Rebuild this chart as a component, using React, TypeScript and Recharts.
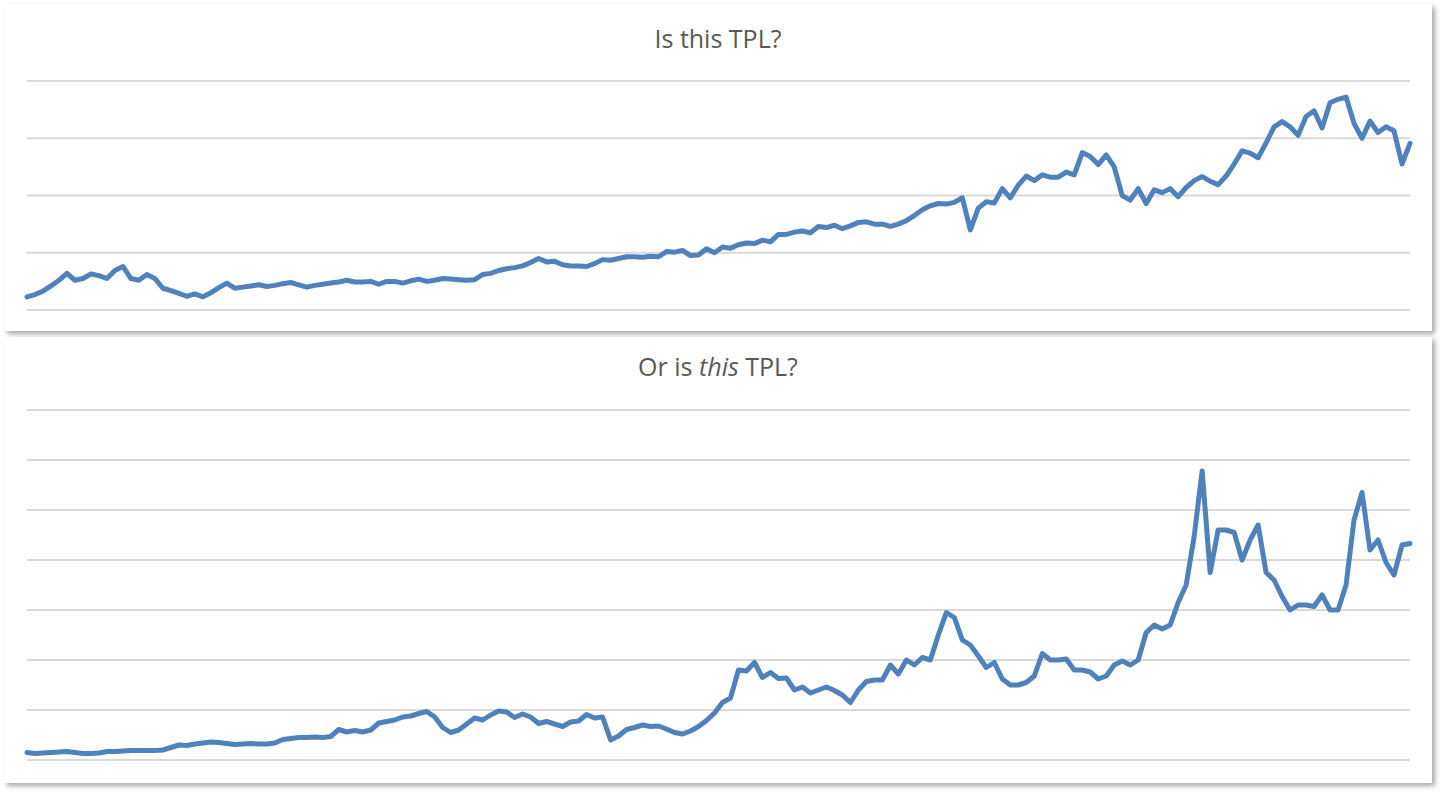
import { LineChart, Line, XAxis, YAxis, CartesianGrid } from "recharts";

// price readings, evenly spaced in time
const topValues = [
  23, 27, 33, 42, 52, 64, 52, 55, 63, 60,
  55, 69, 76, 55, 52, 62, 55, 38, 34, 29,
  24, 28, 23, 30, 39, 47, 38, 40, 42, 44,
  41, 43, 46, 48, 44, 40, 43, 45, 47, 49,
  52, 49, 49, 50, 45, 50, 50, 47, 51, 54,
  50, 52, 55, 54, 53, 52, 53, 62, 64, 69,
  72, 74, 77, 83, 90, 84, 85, 79, 77, 77,
  76, 81, 88, 87, 90, 93, 93, 92, 94, 93,
  102, 101, 104, 95, 96, 107, 100, 110, 108, 114,
  117, 116, 122, 119, 132, 132, 136, 138, 135, 146,
  144, 148, 142, 147, 153, 154, 150, 150, 146, 150,
  156, 165, 175, 182, 186, 185, 188, 196, 140, 178,
  189, 187, 212, 196, 218, 234, 226, 236, 232, 232,
  241, 236, 275, 268, 254, 271, 250, 200, 192, 212,
  186, 210, 205, 212, 198, 214, 226, 233, 225, 219,
  234, 255, 278, 274, 266, 292, 320, 329, 320, 305,
  338, 348, 318, 362, 368, 372, 326, 300, 330, 310,
  320, 313, 255, 291,
];

const bottomValues = [
  15, 13, 14, 15, 16, 17, 15, 13, 13, 14,
  17, 17, 18, 19, 19, 19, 19, 20, 25, 30,
  29, 32, 34, 36, 35, 33, 31, 32, 33, 32,
  32, 34, 41, 43, 45, 45, 46, 45, 47, 61,
  56, 59, 56, 60, 74, 77, 80, 86, 88, 93,
  97, 86, 65, 55, 60, 72, 84, 80, 90, 98,
  96, 85, 92, 86, 73, 77, 72, 67, 76, 78,
  91, 84, 86, 40, 48, 61, 65, 70, 67, 68,
  62, 55, 52, 58, 67, 79, 94, 115, 124, 180,
  178, 195, 165, 175, 163, 164, 140, 146, 134, 140,
  146, 139, 130, 115, 140, 157, 160, 160, 190, 172,
  200, 190, 205, 200, 250, 295, 285, 240, 230, 208,
  185, 195, 162, 150, 150, 155, 168, 213, 200, 200,
  202, 180, 180, 176, 162, 168, 190, 198, 190, 200,
  255, 270, 262, 270, 315, 350, 447, 578, 375, 460,
  460, 455, 400, 440, 470, 375, 360, 327, 300, 310,
  310, 307, 330, 300, 300, 350, 480, 535, 420, 440,
  395, 370, 430, 433,
];

const topTicks = [0, 100, 200, 300, 400];
const bottomTicks = [0, 100, 200, 300, 400, 500, 600, 700];

const toRows = (values: number[]) => values.map((v, i) => ({ day: i, price: v }));

const LINE = "#4f81bd";
const GRID = "#d9d9d9";

type PanelProps = {
  top: number;
  height: number;
  titleTop: number;
  title: React.ReactNode;
  values: number[];
  ticks: number[];
  margin: { top: number; right: number; bottom: number; left: number };
};

const Panel = ({ top, height, titleTop, title, values, ticks, margin }: PanelProps) => (
  <div
    style={{
      position: "absolute",
      left: 4,
      top,
      width: 1428,
      height,
      background: "#fff",
      boxShadow: "3px 3px 5px rgba(0,0,0,0.35)",
    }}
  >
    <div
      style={{
        position: "absolute",
        top: titleTop,
        left: 0,
        width: "100%",
        textAlign: "center",
        fontFamily: "'Open Sans', sans-serif",
        fontSize: 25,
        color: "#595959",
        lineHeight: "34px",
      }}
    >
      {title}
    </div>
    <LineChart width={1428} height={height} data={toRows(values)} margin={margin}>
      <CartesianGrid vertical={false} stroke={GRID} strokeWidth={2} />
      <XAxis dataKey="day" hide />
      <YAxis hide domain={[ticks[0], ticks[ticks.length - 1]]} ticks={ticks} />
      <Line
        type="linear"
        dataKey="price"
        stroke={LINE}
        strokeWidth={5}
        strokeLinejoin="round"
        strokeLinecap="round"
        dot={false}
        activeDot={false}
        isAnimationActive={false}
      />
    </LineChart>
  </div>
);

export default function App() {
  return (
    <div style={{ position: "absolute", left: 0, top: 0, width: 1446, height: 796, background: "#fff" }}>
      <Panel
        top={4}
        height={327}
        titleTop={17}
        title="Is this TPL?"
        values={topValues}
        ticks={topTicks}
        margin={{ top: 77, right: 22, bottom: 21, left: 23 }}
      />
      <Panel
        top={337}
        height={446}
        titleTop={12}
        title={
          <>
            Or is <i>this</i> TPL?
          </>
        }
        values={bottomValues}
        ticks={bottomTicks}
        margin={{ top: 73, right: 22, bottom: 23, left: 23 }}
      />
    </div>
  );
}
